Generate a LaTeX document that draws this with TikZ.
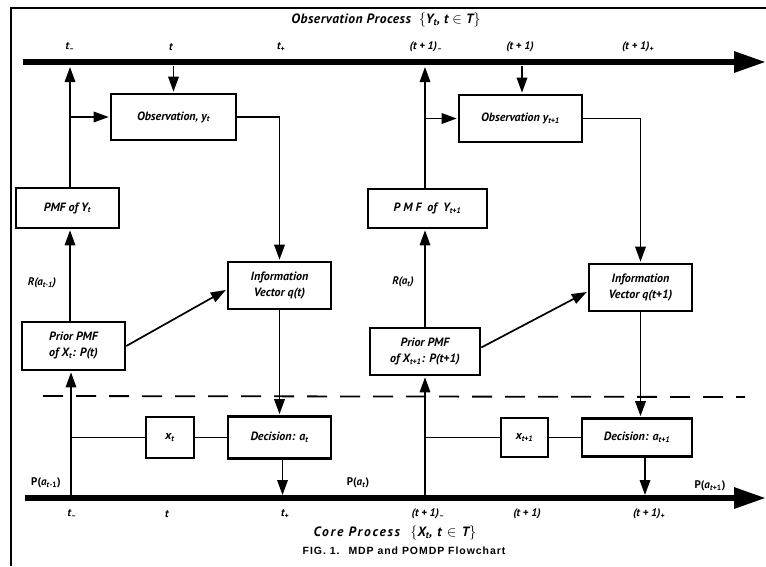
\documentclass[tikz,border=0pt]{standalone}
\usepackage{fontspec}
\setmainfont{PT Sans}
\setsansfont{PT Sans}
\newfontfamily\capfont{Liberation Sans}
\usetikzlibrary{arrows.meta}

\newcommand\sbs[1]{\textsubscript{#1}}
\newcommand\boxfont{\bfseries\itshape\fontsize{12}{16}\selectfont}
\newcommand\labfont{\bfseries\itshape\fontsize{11}{13}\selectfont}

\tikzset{
  box/.style={draw, line width=2.6pt, inner sep=2pt, align=center, font=\boxfont},
  link/.style={line width=1.7pt},
  arr/.style={link, -{Triangle[length=15pt,width=10.5pt]}, shorten >=1pt},
  lab/.style={font=\labfont, inner sep=0pt},
  plab/.style={lab, font=\bfseries\fontsize{11}{13}\selectfont},
  axis/.style={line width=6pt, -{Triangle[length=32pt,width=20pt]}},
  sep/.style={line width=1.8pt, dash pattern=on 20pt off 13pt},
}

\begin{document}
\begin{tikzpicture}[x=1pt, y=-1pt]
\useasboundingbox (0,0) rectangle (766,566);

% frame
\draw[line width=2pt] (11,566) -- (11,8) -- (766,8);

% titles
\node[font=\bfseries\itshape\fontsize{13.5}{15}\selectfont\addfontfeature{LetterSpace=4}] (otitle) at (386,20)
  {Observation Process \ $\big\{$\textit{Y}\sbs{\textit{t}}, \textit{t} $\in$ \textit{T}$\big\}$};
\node[font=\bfseries\itshape\fontsize{13.5}{15}\selectfont\addfontfeature{LetterSpace=13}] (ctitle) at (395,533)
  {Core Process \ $\big\{$\textit{X}\sbs{\textit{t}}, \textit{t} $\in$ \textit{T}$\big\}$};
\node[font=\capfont\bfseries\fontsize{10.5}{12}\selectfont\addfontfeature{LetterSpace=9}] (caption) at (404,551)
  {FIG. 1. \ MDP and POMDP Flowchart};

% boxes, first period
\node[box, minimum width=125pt, minimum height=46pt] (obsA)   at (173.5,117) {Observation, y\sbs{t}};
\node[box, minimum width=103pt, minimum height=40pt] (pmfA)   at (67.5,208)  {PMF of Y\sbs{t}};
\node[box, minimum width=103pt, minimum height=47pt] (infoA)  at (279.5,285.5) {Information\\Vector q(t)};
\node[box, minimum width=103pt, minimum height=48pt] (priorA) at (73.5,346)  {Prior PMF\\of X\sbs{t}: P(t)};
\node[box, minimum width=48pt,  minimum height=41pt] (xA)     at (170,437.5) {x\sbs{t}};
\node[box, minimum width=103pt, minimum height=42pt] (decA)   at (279.5,437.5) {Decision: a\sbs{t}};

% boxes, second period
\node[box, minimum width=123pt, minimum height=47pt] (obsB)   at (520.5,118.5) {Observation y\sbs{t+1}};
\node[box, minimum width=119pt, minimum height=39pt] (pmfB)   at (427.5,208.5) {P M F \ of \ Y\sbs{t+1}};
\node[box, minimum width=103pt, minimum height=47pt] (infoB)  at (640.5,287.5) {Information\\Vector q(t+1)};
\node[box, minimum width=110pt, minimum height=47pt] (priorB) at (425,351.5) {Prior PMF\\of X\sbs{t+1}: P(t+1)};
\node[box, minimum width=47pt,  minimum height=39pt] (xB)     at (524.5,437.5) {x\sbs{t+1}};
\node[box, minimum width=110pt, minimum height=38pt] (decB)   at (637,437.5) {Decision: a\sbs{t+1}};

% points where connectors meet the two process lines
\coordinate (tA) at (70,66);
\coordinate (bA) at (71,496);
\coordinate (tB) at (425,66);
\coordinate (bB) at (425,496);
\coordinate (topL) at (23,62);
\coordinate (topR) at (766,62);
\coordinate (botL) at (25,498);
\coordinate (botR) at (766,498);

% connectors, first period
\draw[arr]  (bA) -- (priorA.south -| bA);
\draw[arr]  (priorA.north -| tA) -- (pmfA.south -| tA);
\draw[arr]  (pmfA.north -| tA) -- (tA);
\draw[arr]  (obsA.west -| tA) -- (obsA.west);
\draw[arr]  (obsA.north |- tA) -- (obsA.north);
\draw[arr]  (obsA.east) -| (infoA.north);
\draw[arr]  (priorA.east) -- ([yshift=-4pt]infoA.west);
\draw[arr]  (infoA.south) -- (decA.north);
\draw[link] (xA.west -| bA) -- (xA.west);
\draw[link] (xA.east) -- (decA.west);
\draw[arr]  ([xshift=3pt]decA.south) -- ([xshift=3pt]decA.south |- bA);

% connectors, second period
\draw[arr]  (bB) -- (priorB.south -| bB);
\draw[arr]  (priorB.north -| tB) -- (pmfB.south -| tB);
\draw[arr]  (pmfB.north -| tB) -- (tB);
\draw[arr]  (obsB.west -| tB) -- (obsB.west);
\draw[arr]  ([xshift=1.5pt]obsB.north |- tB) -- ([xshift=1.5pt]obsB.north);
\draw[arr]  (obsB.east) -| (infoB.north);
\draw[arr]  ([yshift=4pt]priorB.east) -- ([yshift=-4pt]infoB.west);
\draw[arr]  (infoB.south) -- (infoB.south |- decB.north);
\draw[link] (xB.west -| bB) -- (xB.west);
\draw[link] (xB.east) -- (decB.west);
\draw[arr]  ([xshift=8pt]decB.south) -- ([xshift=8pt]decB.south |- bB);

% process lines
\draw[axis] (topL) -- (topR);
\draw[axis] (botL) -- (botR);

% dashed separator between the observation and core processes
\coordinate (sepL) at (43,396);
\coordinate (sepR) at (745,397);
\draw[sep] (sepL) -- (sepR);

% time marks on the observation process
\node[lab] (ot1) at (70,47)  {t\sbs{–}};
\node[lab] (ot2) at (171,47) {t};
\node[lab] (ot3) at (281,47) {t\sbs{+}};
\node[lab] (ot4) at (426,47) {(t + 1)\sbs{–}};
\node[lab] (ot5) at (520,47) {(t + 1)};
\node[lab] (ot6) at (638,47) {(t + 1)\sbs{+}};

% time marks on the core process
\node[lab] (ct1) at (72,514)  {t\sbs{–}};
\node[lab] (ct2) at (167,514) {t};
\node[lab] (ct3) at (285,514) {t\sbs{+}};
\node[lab] (ct4) at (428,514) {(t + 1)\sbs{–}};
\node[lab] (ct5) at (527,514) {(t + 1)};
\node[lab] (ct6) at (649,514) {(t + 1)\sbs{+}};

% rewards and transition labels
\node[lab] (rA) at (42,283)  {R(a\sbs{t-1})};
\node[lab] (rB) at (403,282) {R(a\sbs{t})};
\node[plab] (pA) at (46,483)  {P(\textit{a}\sbs{\textit{t}-1})};
\node[plab] (pB) at (358,483) {P(\textit{a}\sbs{\textit{t}})};
\node[plab] (pC) at (710,486) {P(\textit{a}\sbs{\textit{t}+1})};
\end{tikzpicture}
\end{document}
